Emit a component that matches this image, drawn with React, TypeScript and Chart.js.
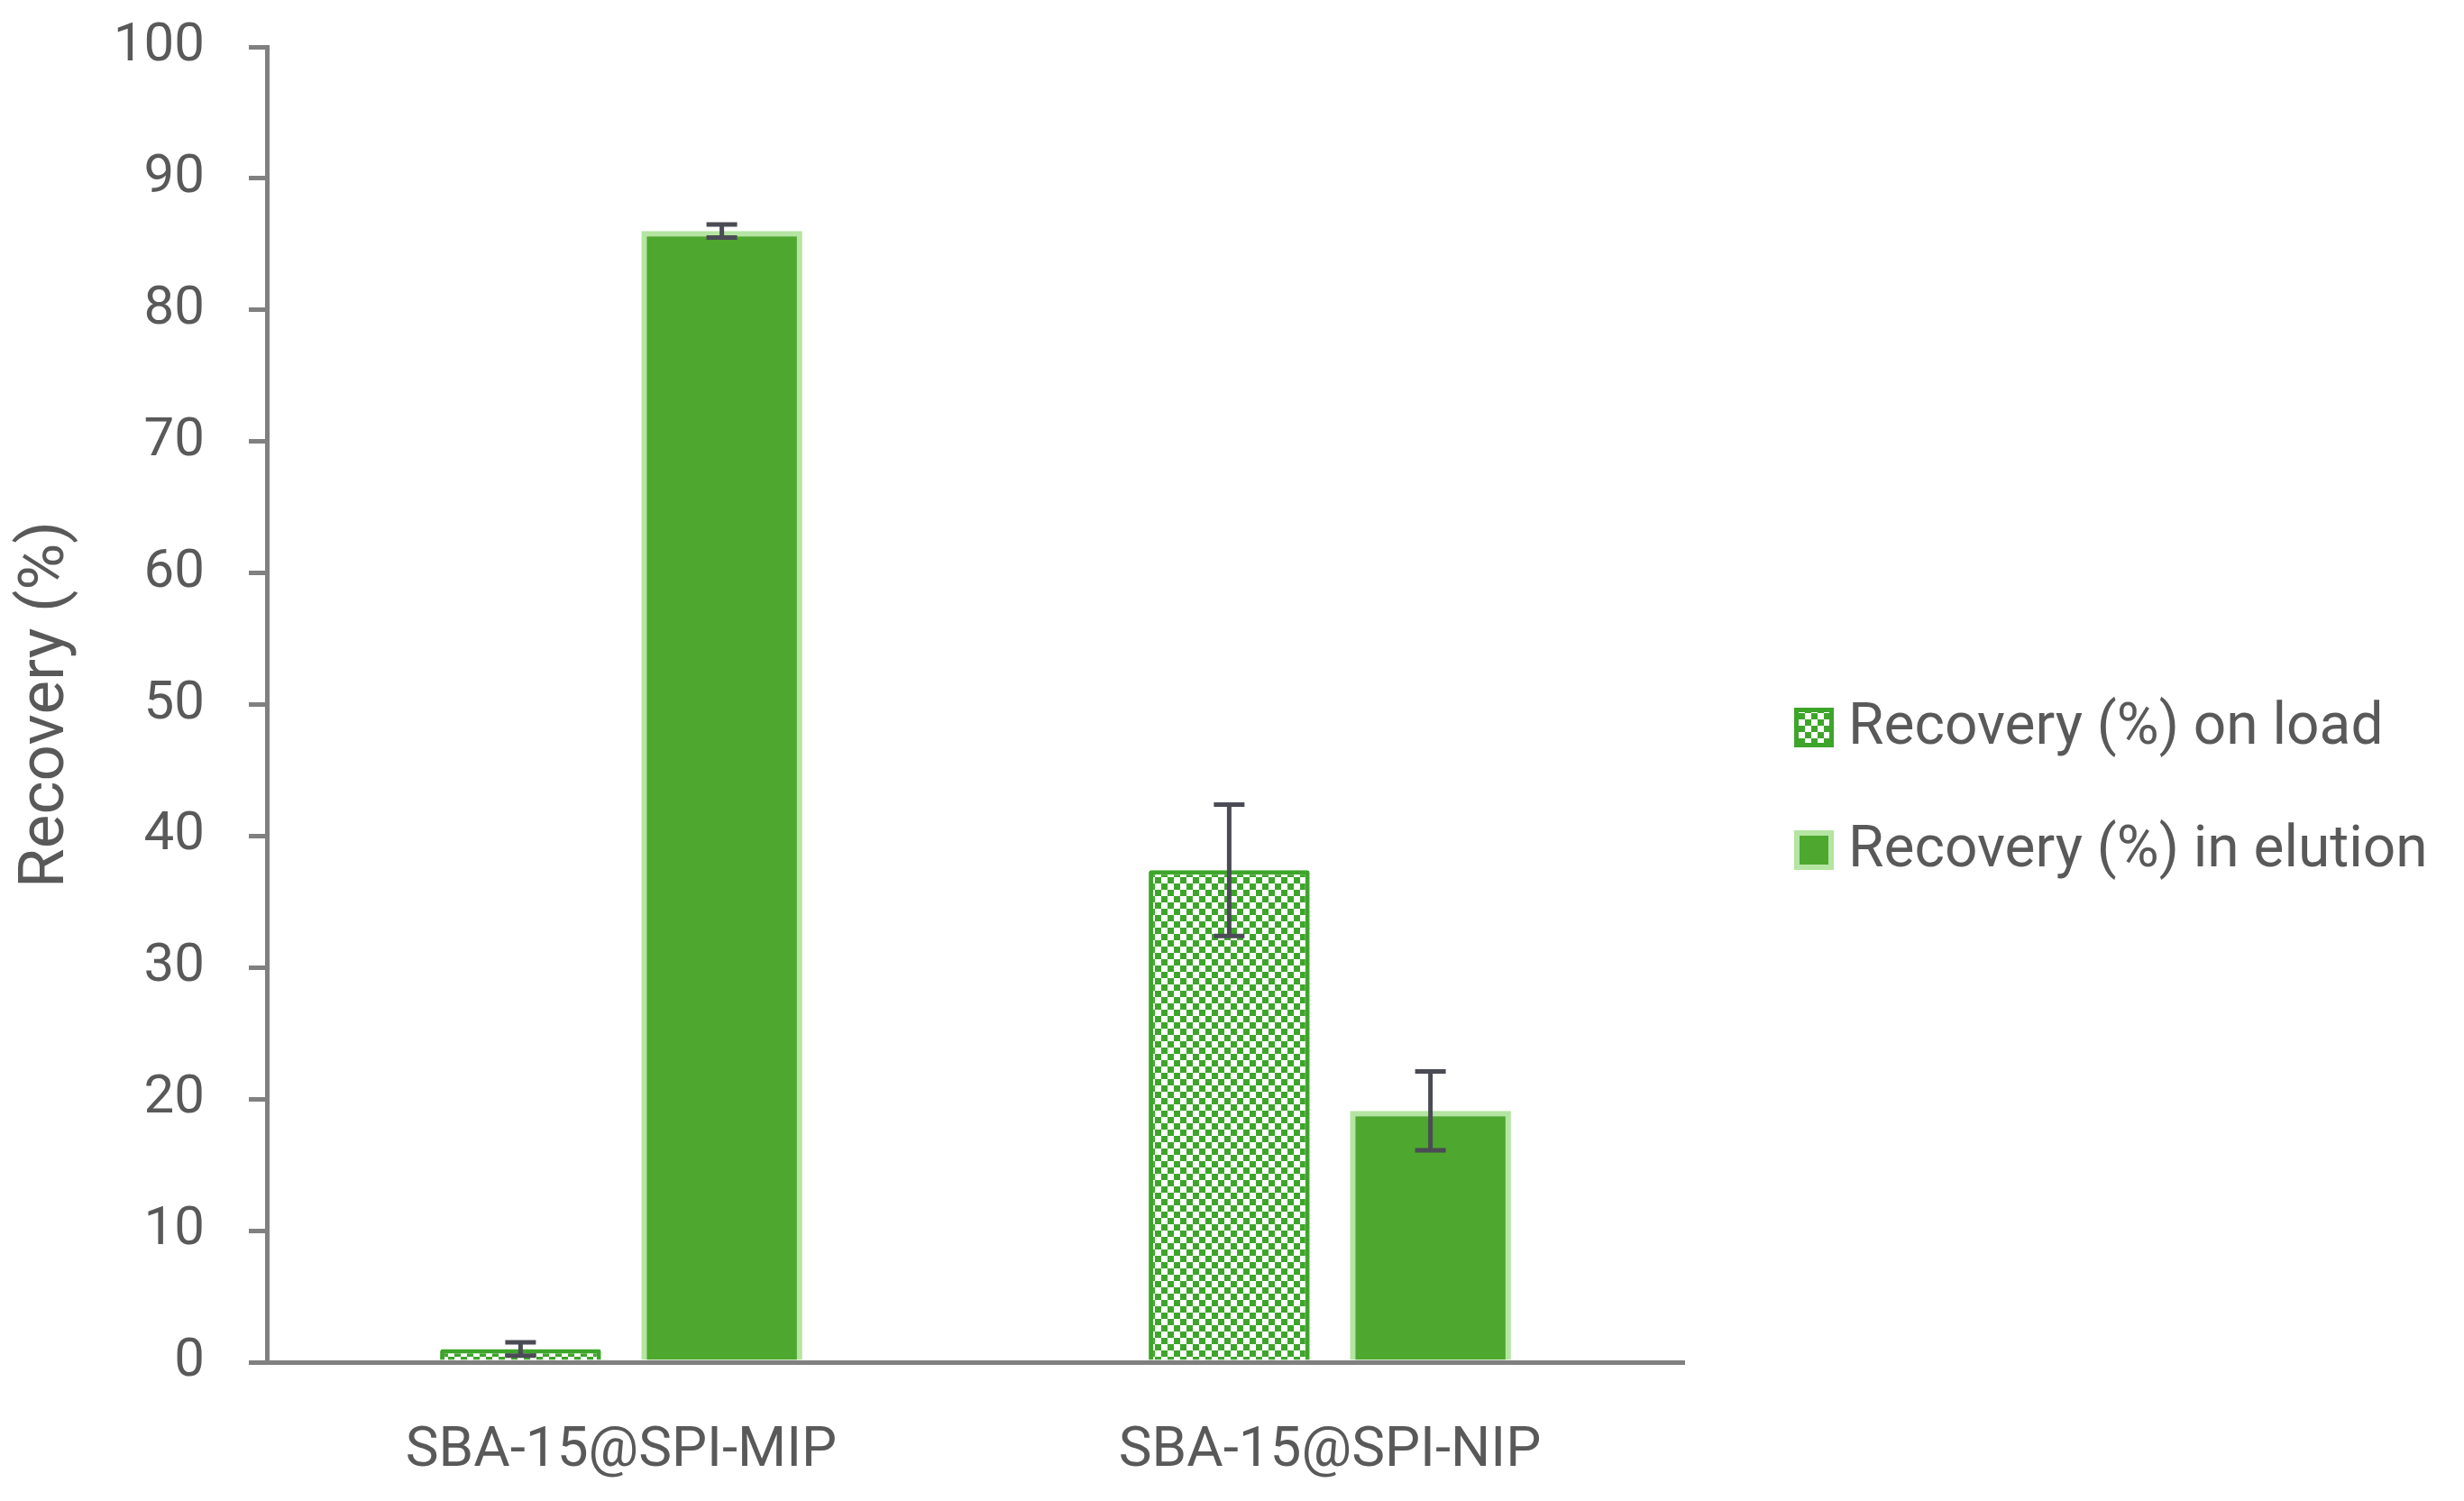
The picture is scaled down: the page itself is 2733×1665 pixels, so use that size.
import React, { useEffect, useRef } from "react";
import { Chart, registerables } from "chart.js";

Chart.register(...registerables);

const categories = ["SBA-15@SPI-MIP", "SBA-15@SPI-NIP"];
const seriesNames = ["Recovery (%) on load", "Recovery (%) in elution"];
const loadValues = [1.0, 37.4];
const loadErrors = [0.5, 5.0];
const elutionValues = [86.0, 19.1];
const elutionErrors = [0.5, 3.0];
const yMin = 0;
const yMax = 100;
const yStep = 10;
const yTitle = "Recovery (%)";

const W = 2733;
const H = 1665;
const TEXT = "#595959";
const AXIS = "#808080";
const FONT = "Roboto, 'Liberation Sans', sans-serif";
const GREEN = "#3ea52b";
const GREEN_FILL = "#4ea72e";
const GREEN_LIGHT = "#b4e5a2";
const ERR = "#4b4b55";

function makePattern(): CanvasPattern | string {
  const c = document.createElement("canvas");
  const s = 7;
  c.width = s * 2;
  c.height = s * 2;
  const g = c.getContext("2d");
  if (!g) return GREEN;
  g.fillStyle = "#ffffff";
  g.fillRect(0, 0, s * 2, s * 2);
  g.fillStyle = GREEN;
  g.fillRect(0, 0, s, s);
  g.fillRect(s, s, s, s);
  const p = g.createPattern(c, "repeat");
  return p || GREEN;
}

const errorsByDataset = [loadErrors, elutionErrors];

const errorBarPlugin = {
  id: "errorBars",
  afterDatasetsDraw(chart: any) {
    const ctx = chart.ctx;
    const y = chart.scales.y;
    ctx.save();
    ctx.strokeStyle = ERR;
    ctx.lineWidth = 5;
    chart.data.datasets.forEach((ds: any, i: number) => {
      const meta = chart.getDatasetMeta(i);
      const errs = errorsByDataset[i];
      meta.data.forEach((el: any, j: number) => {
        const v = ds.data[j];
        const e = errs[j];
        const yt = y.getPixelForValue(v + e);
        const yb = y.getPixelForValue(Math.max(v - e, yMin));
        const x = el.x;
        const cap = 17;
        ctx.beginPath();
        ctx.moveTo(x, yt);
        ctx.lineTo(x, yb);
        ctx.moveTo(x - cap, yt);
        ctx.lineTo(x + cap, yt);
        ctx.moveTo(x - cap, yb);
        ctx.lineTo(x + cap, yb);
        ctx.stroke();
      });
    });
    ctx.restore();
  },
};

const legendPlugin = {
  id: "customLegend",
  afterDraw(chart: any) {
    const ctx = chart.ctx;
    const x0 = 1990;
    const rows = [807, 943];
    const box = 44;
    ctx.save();
    chart.data.datasets.forEach((ds: any, i: number) => {
      const cy = rows[i];
      const bw = ds.borderWidth;
      ctx.fillStyle = ds.backgroundColor;
      ctx.fillRect(x0, cy - box / 2, box, box);
      ctx.strokeStyle = ds.borderColor;
      ctx.lineWidth = bw;
      ctx.strokeRect(x0 + bw / 2, cy - box / 2 + bw / 2, box - bw, box - bw);
      ctx.fillStyle = TEXT;
      ctx.font = `64px ${FONT}`;
      ctx.textAlign = "left";
      ctx.textBaseline = "middle";
      ctx.fillText(ds.label, x0 + box + 16, cy + 2);
    });
    ctx.restore();
  },
};

export default function App() {
  const ref = useRef<HTMLCanvasElement | null>(null);

  useEffect(() => {
    document.body.style.margin = "0";
    if (!ref.current) return;
    const pattern = makePattern();
    const chart = new Chart(ref.current, {
      type: "bar",
      data: {
        labels: categories,
        datasets: [
          {
            label: seriesNames[0],
            data: loadValues,
            backgroundColor: pattern as any,
            borderColor: GREEN,
            borderWidth: 5,
            borderRadius: 3,
            categoryPercentage: 0.568,
            barPercentage: 0.8,
          },
          {
            label: seriesNames[1],
            data: elutionValues,
            backgroundColor: GREEN_FILL,
            borderColor: GREEN_LIGHT,
            borderWidth: 6,
            categoryPercentage: 0.568,
            barPercentage: 0.8,
          },
        ],
      },
      options: {
        responsive: false,
        animation: false,
        devicePixelRatio: 1,
        layout: { padding: { top: 52, right: 865, left: 0, bottom: 0 } },
        plugins: {
          legend: { display: false },
          tooltip: { enabled: false },
        },
        scales: {
          x: {
            grid: { display: false },
            border: { display: true, color: AXIS, width: 5 },
            ticks: {
              color: TEXT,
              font: { family: FONT, size: 62 },
              padding: 54,
            },
            afterFit: (s: any) => {
              s.height = 154;
              s.paddingLeft = 0;
              s.paddingRight = 0;
            },
          },
          y: {
            min: yMin,
            max: yMax,
            ticks: {
              stepSize: yStep,
              color: TEXT,
              font: { family: FONT, size: 60 },
              padding: 49,
            },
            grid: {
              drawOnChartArea: false,
              drawTicks: true,
              tickLength: 20,
              color: AXIS,
              lineWidth: 5,
            },
            border: { display: true, color: AXIS, width: 5 },
            title: {
              display: true,
              text: yTitle,
              color: TEXT,
              font: { family: FONT, size: 71 },
              padding: { top: 10, bottom: 0 },
            },
            afterFit: (s: any) => {
              s.width = 296;
              s.paddingTop = 0;
              s.paddingBottom = 0;
            },
          },
        },
      },
      plugins: [errorBarPlugin, legendPlugin],
    });
    return () => chart.destroy();
  }, []);

  return (
    <div style={{ position: "absolute", left: 0, top: 0, width: W, height: H, background: "#fff" }}>
      <canvas ref={ref} width={W} height={H} style={{ display: "block" }} />
    </div>
  );
}
